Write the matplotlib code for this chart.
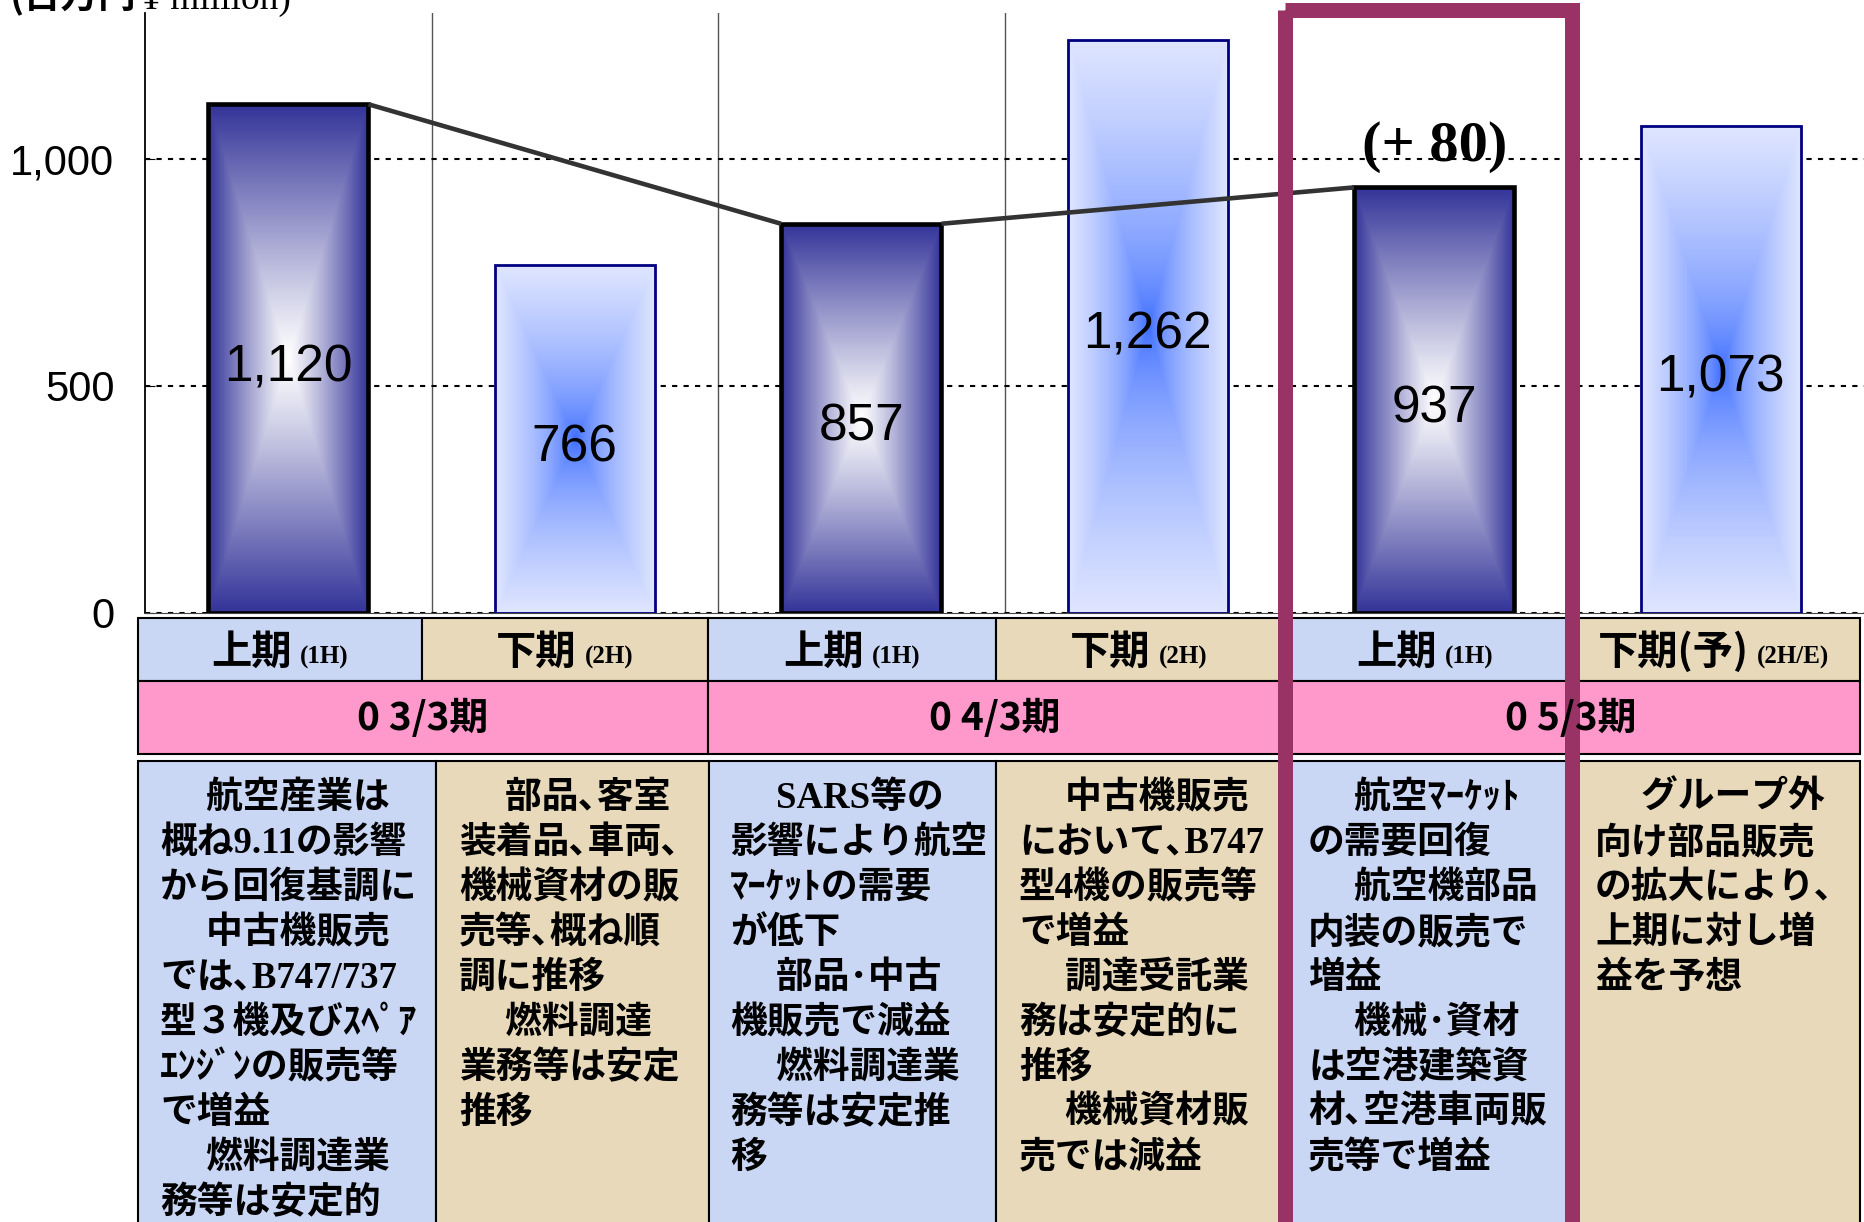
import numpy as np
import matplotlib.pyplot as plt
from matplotlib.patches import Rectangle
from matplotlib.offsetbox import TextArea, HPacker, AnnotationBbox
from matplotlib.ticker import StrMethodFormatter

plt.rcParams['font.family'] = ['Liberation Sans', 'Noto Sans CJK JP']

# data
values = [1120, 766, 857, 1262, 937, 1073]
is_first_half = [True, False, True, False, True, False]
half_names = ['上期', '下期', '上期', '下期', '上期', '下期(予)']
half_codes = ['(1H)', '(2H)', '(1H)', '(2H)', '(1H)', '(2H/E)']
years = ['0 3/3期', '0 4/3期', '0 5/3期']
yticks = [0, 500, 1000]
notes = [
    ['　 航空産業は', '概ね9.11の影響', 'から回復基調に', '　 中古機販売', 'では､B747/737',
     '型３機及びｽﾍﾟｱ', 'ｴﾝｼﾞﾝの販売等', 'で増益', '　 燃料調達業', '務等は安定的'],
    ['　 部品､客室', '装着品､車両､', '機械資材の販', '売等､概ね順', '調に推移',
     '　 燃料調達', '業務等は安定', '推移'],
    ['　 SARS等の', '影響により航空', 'ﾏｰｹｯﾄの需要', 'が低下', '　 部品･中古',
     '機販売で減益', '　 燃料調達業', '務等は安定推', '移'],
    ['　 中古機販売', 'において､B747', '型4機の販売等', 'で増益', '　 調達受託業',
     '務は安定的に', '推移', '　 機械資材販', '売では減益'],
    ['　 航空ﾏｰｹｯﾄ', 'の需要回復', '　 航空機部品', '内装の販売で', '増益',
     '　 機械･資材', 'は空港建築資', '材､空港車両販', '売等で増益'],
    ['　 グループ外', '向け部品販売', 'の拡大により､', '上期に対し増', '益を予想'],
]

W, H = 1864, 1222
fig = plt.figure(figsize=(W / 100, H / 100), dpi=100)

# ---- bar chart ----
ax = fig.add_axes([145 / W, (H - 613) / H, (W - 145) / W, 600 / H], zorder=1)
x = np.arange(len(values))
bw = 0.56
edge = ['black' if f else '#000080' for f in is_first_half]
lws = [3.3 if f else 2.0 for f in is_first_half]
bars = ax.bar(x, values, width=bw, facecolor='none', edgecolor=edge, linewidth=lws, zorder=3)

navy = np.array([0x33, 0x33, 0x99]) / 255
white = np.array([1.0, 1.0, 1.0])
blue = np.array([0x33, 0x66, 0xff]) / 255
pale = np.array([0xe0, 0xe6, 0xff]) / 255


def fill_gradient(patch, inner, outer, power):
    x0, y0 = patch.get_x(), patch.get_y()
    w, h = patch.get_width(), patch.get_height()
    u = np.abs(np.linspace(-1, 1, 200))
    v = np.abs(np.linspace(-1, 1, 400))
    t = np.maximum(u[None, :], v[:, None]) ** power
    img = inner[None, None, :] * (1 - t[..., None]) + outer[None, None, :] * t[..., None]
    ax.imshow(img, extent=[x0, x0 + w, y0, y0 + h], origin='lower',
              aspect='auto', zorder=2, interpolation='bilinear')


for b, f in zip(bars, is_first_half):
    if f:
        fill_gradient(b, white, navy, 1.1)
    else:
        fill_gradient(b, blue, pale, 0.6)

for xi, v in zip(x, values):
    ax.text(xi, v / 2 - 20, f'{v:,}', ha='center', va='center', fontsize=37, zorder=5)

# connecting lines between first halves
for a, b in [(0, 2), (2, 4)]:
    ax.plot([x[a] + bw / 2, x[b] - bw / 2], [values[a], values[b]],
            color='#333333', lw=3.3, zorder=4, solid_capstyle='butt')

ax.text(x[4], values[4] + 90, f'(+ {values[4] - values[2]})', ha='center', va='center',
        fontsize=42, fontweight='bold', family='Liberation Serif', zorder=5)

ax.set_xlim(-0.5, len(values) - 0.5)
ax.set_ylim(0, 1321)
ax.set_yticks(yticks)
ax.yaxis.set_major_formatter(StrMethodFormatter('{x:,.0f}'))
ax.tick_params(axis='y', direction='in', length=7, labelsize=30, pad=22)
ax.set_xticks(x)
ax.set_xticklabels([])
ax.tick_params(axis='x', direction='in', length=5)
ax.set_xticks(np.arange(0.5, len(values) - 0.5, 1), minor=True)
ax.tick_params(axis='x', which='minor', length=0)
ax.grid(axis='y', which='major', color='black', linestyle=(0, (2.5, 3)), lw=1.5, zorder=0)
ax.grid(axis='x', which='minor', color='#555555', lw=1.0, zorder=0)
ax.grid(axis='x', which='major', visible=False)
ax.set_axisbelow(True)
ax.spines['top'].set_visible(False)
ax.spines['right'].set_visible(False)
ax.spines['left'].set_linewidth(1.3)
ax.spines['bottom'].set_color('#444444')

# ---- table below (pixel coordinates) ----
tb = fig.add_axes([0, 0, 1, 1], zorder=3)
tb.set_xlim(0, W)
tb.set_ylim(H, 0)
tb.axis('off')
tb.patch.set_alpha(0)

blue_cell = '#cad7f4'
beige_cell = '#e7d9b9'
pink = '#ff99cc'

row1_x = [138, 422, 708, 996, 1282, 1567, 1860]
row3_x = [138, 436, 709, 996, 1290, 1576, 1860]
text_x = [160, 459, 730, 1019, 1308, 1595]

for i in range(len(values)):
    col = blue_cell if is_first_half[i] else beige_cell
    tb.add_patch(Rectangle((row1_x[i], 618), row1_x[i + 1] - row1_x[i], 63,
                           facecolor=col, edgecolor='black', lw=1.5))
    tb.add_patch(Rectangle((row3_x[i], 761), row3_x[i + 1] - row3_x[i], 500,
                           facecolor=col, edgecolor='black', lw=1.5))
    cx = (row1_x[i] + row1_x[i + 1]) / 2
    main = TextArea(half_names[i], textprops=dict(fontsize=29, fontweight='bold',
                                                  family=['Noto Sans CJK JP']))
    sub = TextArea(half_codes[i], textprops=dict(fontsize=18, fontweight='bold',
                                                 family=['Liberation Serif']))
    pack = HPacker(children=[main, sub], align='baseline', pad=0, sep=6)
    tb.add_artist(AnnotationBbox(pack, (cx, 652), xycoords='data', frameon=False,
                                 box_alignment=(0.5, 0.5)))
    for j, line in enumerate(notes[i]):
        tb.text(text_x[i], 808 + 45 * j, line, ha='left', va='baseline', fontsize=26.5,
                fontweight='bold', family=['Liberation Serif', 'Noto Sans CJK JP'])

for k, label in enumerate(years):
    x0, x1 = row1_x[2 * k], row1_x[2 * k + 2]
    tb.add_patch(Rectangle((x0, 681), x1 - x0, 73, facecolor=pink, edgecolor='black', lw=1.5))
    tb.text((x0 + x1) / 2, 718, label, ha='center', va='center', fontsize=28,
            fontweight='bold', family=['Noto Sans CJK JP'])

# highlight frame around current half
tb.add_patch(Rectangle((1285, 10), 1572 - 1285, 1300, facecolor='none',
                       edgecolor='#993366', lw=10.8))

# unit label, cut at the top edge
tb.text(10, -4, '(百万円', ha='left', va='center', fontsize=27, fontweight='bold',
        family=['Noto Sans CJK JP'])
tb.text(142, 9, '¥ million)', ha='left', va='baseline', fontsize=27,
        family=['Liberation Serif'])

fig.savefig('out.png', dpi=100, facecolor='white')
